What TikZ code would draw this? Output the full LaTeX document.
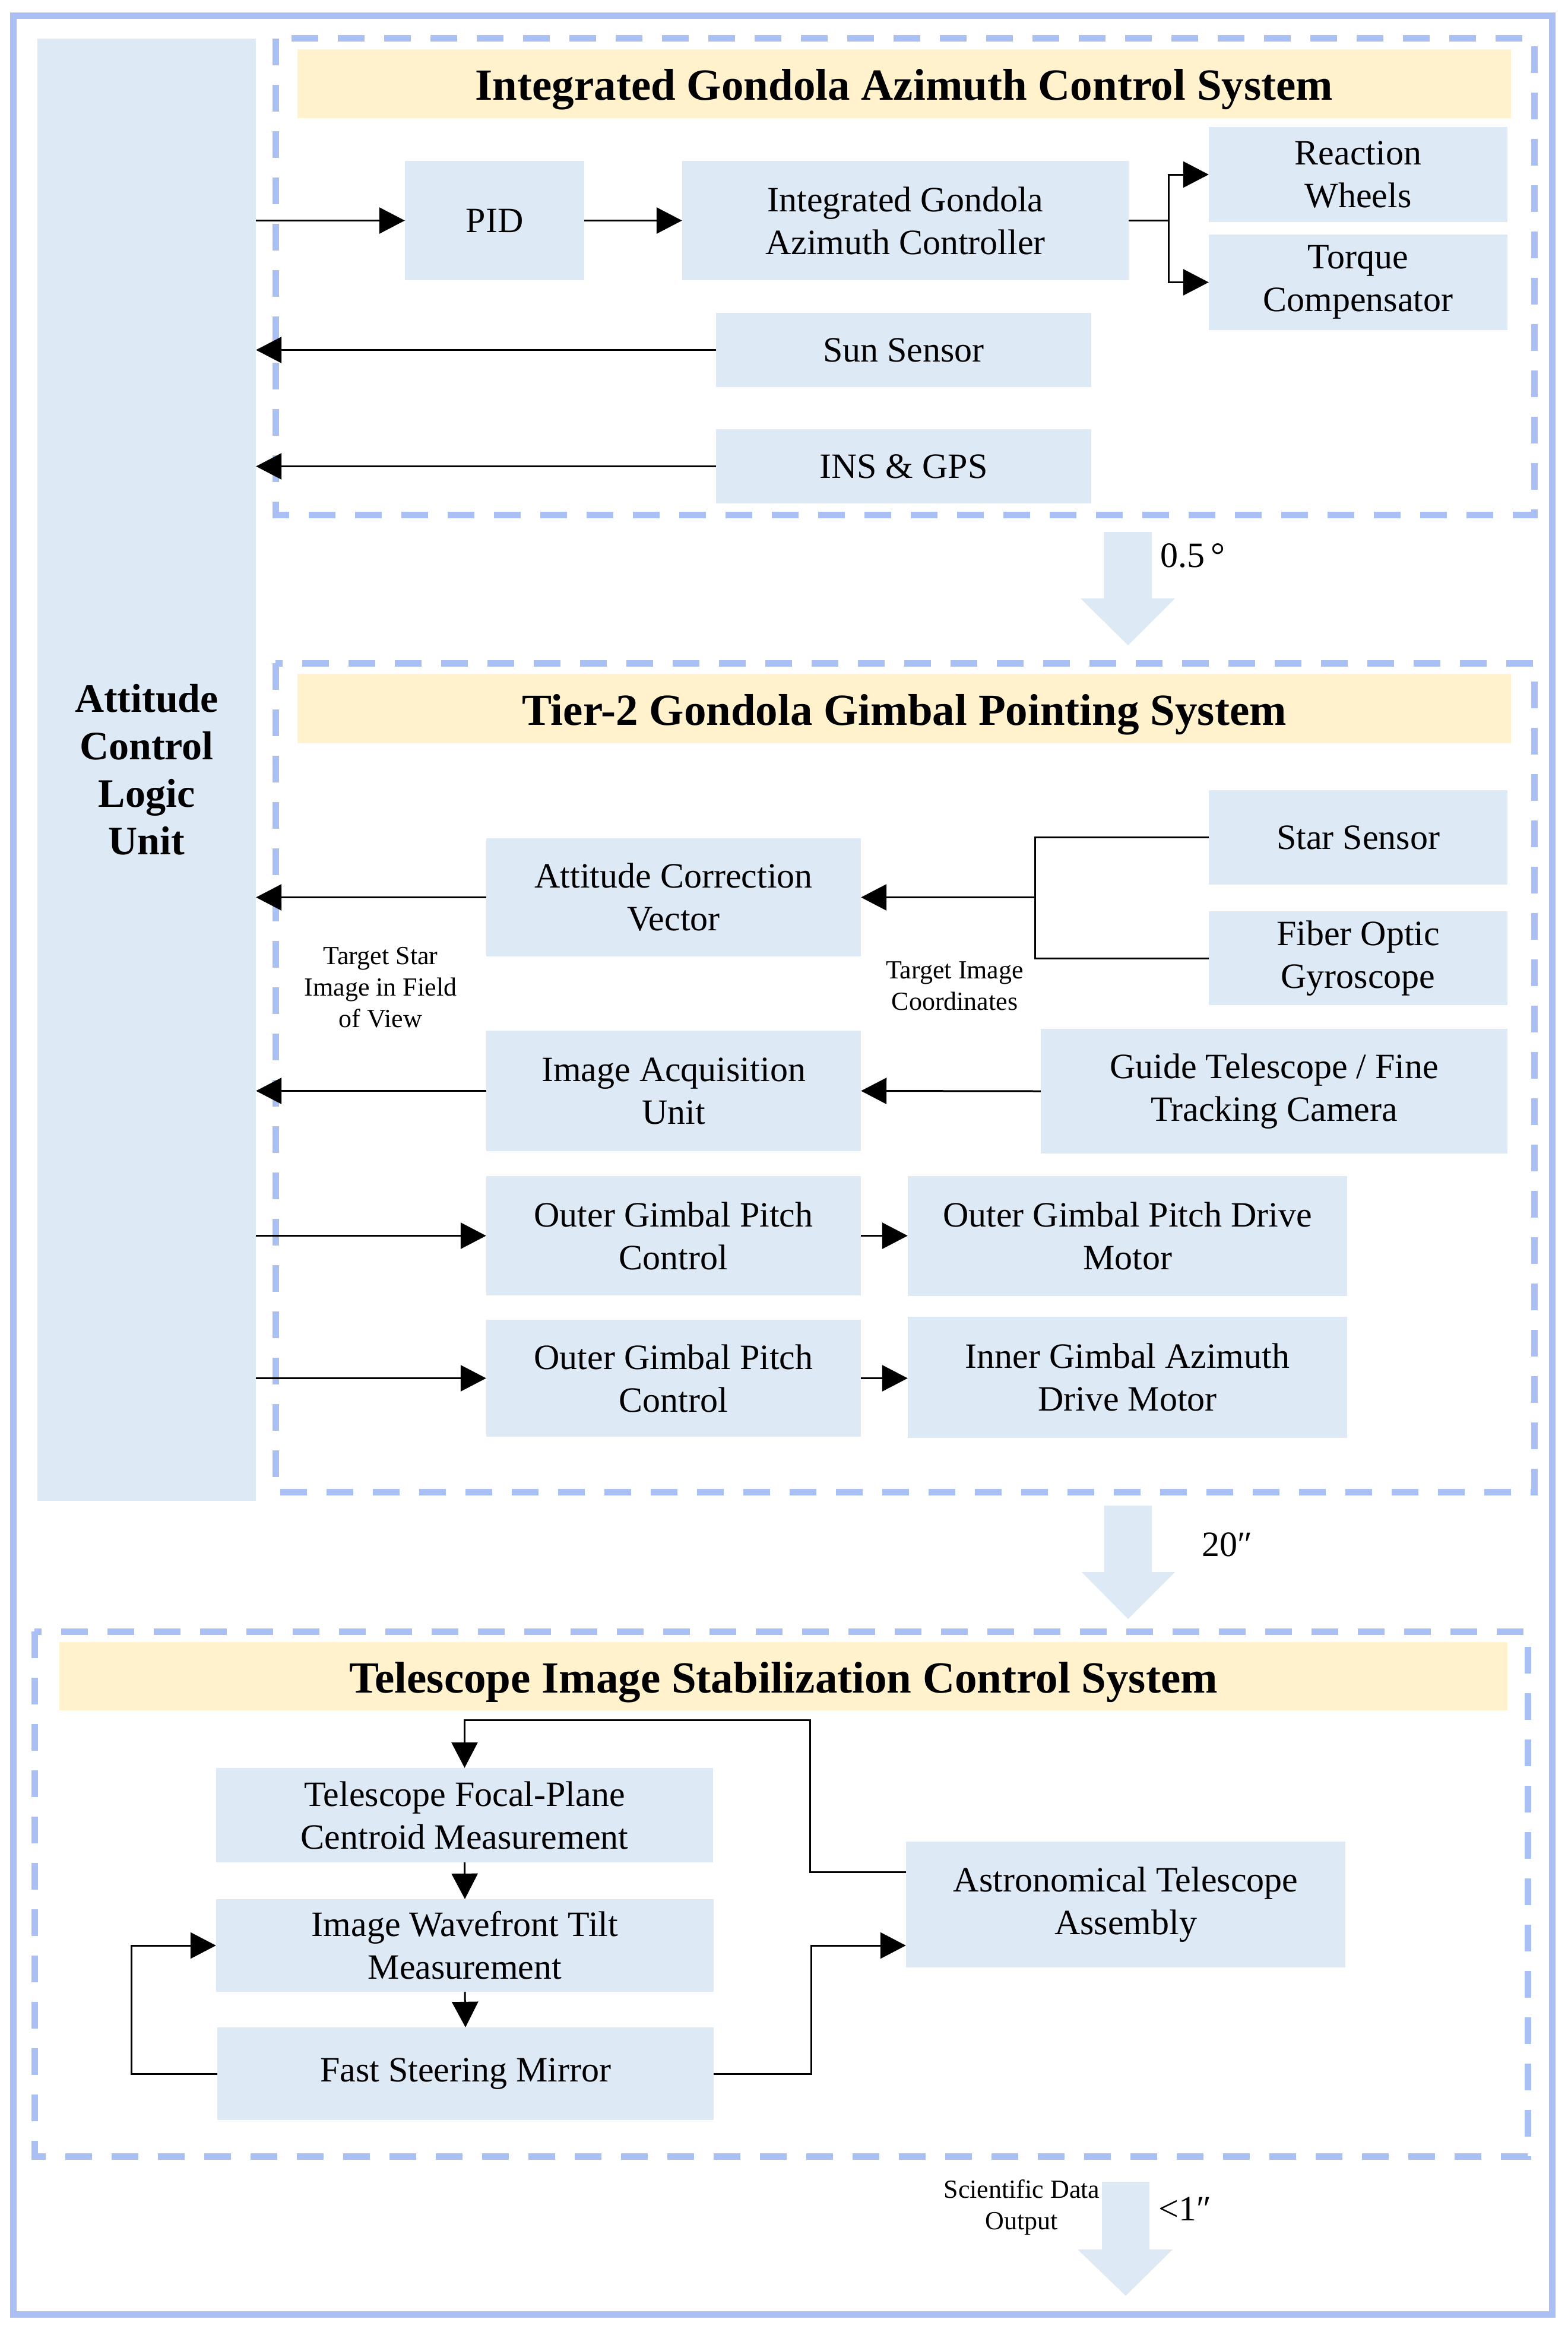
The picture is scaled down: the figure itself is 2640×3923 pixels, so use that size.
\documentclass[tikz,border=0pt]{standalone}
\usepackage{fontspec}
\setmainfont{Liberation Serif}
\usetikzlibrary{arrows.meta}
\definecolor{boxblue}{RGB}{222,233,246}
\definecolor{bandyellow}{RGB}{255,242,204}
\definecolor{frameblue}{RGB}{170,192,245}
\begin{document}
\begin{tikzpicture}[x=1pt,y=-1pt,
  box/.style={fill=boxblue, draw=none, inner sep=0pt, align=center, font=\fontsize{60}{72}\selectfont},
  band/.style={fill=bandyellow, draw=none, inner sep=0pt, text height=56pt, text depth=0pt, font=\bfseries\fontsize{75}{90}\selectfont},
  grpframe/.style={draw=frameblue, line width=11pt, dash pattern=on 45pt off 33pt},
  outerframe/.style={draw=frameblue, line width=11pt},
  conn/.style={draw=black, line width=3pt},
  arr/.style={conn, -{Triangle[length=43pt,width=44pt]}},
  blockarrow/.style={fill=boxblue, draw=none},
  lbl/.style={inner sep=0pt, align=center, font=\fontsize{44}{53}\selectfont},
  val/.style={inner sep=0pt, anchor=base west, font=\fontsize{60}{72}\selectfont}
]
\useasboundingbox (0,0) rectangle (2640,3923);
\fill[white] (0,0) rectangle (2640,3923);

% frames
\draw[outerframe] (22,27) rectangle (2614,3898);
\draw[grpframe] (464,65) rectangle (2584,867);
\draw[grpframe] (464,1117) rectangle (2584,2513);
\draw[grpframe] (58,2748) rectangle (2573,3632);

% left unit
\node[box, minimum width=368pt, minimum height=2463pt, font=\bfseries\fontsize{68}{80}\selectfont] (aclu) at (247,1296.5) {Attitude\\Control\\Logic\\Unit};

% section 1
\node[band, minimum width=2044pt, minimum height=116pt] (band1) at (1523,141) {Integrated Gondola Azimuth Control System};
\node[box, minimum width=302pt, minimum height=201pt] (pid) at (833,371.5) {PID};
\node[box, minimum width=752pt, minimum height=201pt] (igac) at (1525,371.5) {Integrated Gondola\\Azimuth Controller};
\node[box, minimum width=503pt, minimum height=160pt] (rw) at (2287.5,294) {Reaction\\Wheels};
\node[box, minimum width=503pt, minimum height=161pt] (tc) at (2287.5,475.5) {Torque\\Compensator};
\node[box, minimum width=632pt, minimum height=125pt] (sun) at (1522,589.5) {Sun Sensor};
\node[box, minimum width=632pt, minimum height=125pt] (ins) at (1522,785.5) {INS \& GPS};

\draw[arr] (aclu.east |- pid.west) -- (pid.west);
\draw[arr] (pid.east) -- (igac.west);
\coordinate (br1) at (1968,371.5);
\draw[conn] (igac.east) -- (br1);
\draw[arr] (br1) |- (rw.west);
\draw[arr] (br1) |- (tc.west);
\draw[arr] (sun.west) -- (aclu.east |- sun.west);
\draw[arr] (ins.west) -- (aclu.east |- ins.west);

% block arrow 1
\fill[blockarrow] (1859,896) -- (1940,896) -- (1940,1008) -- (1979,1008) -- (1900,1087) -- (1820,1008) -- (1859,1008) -- cycle;
\node[val] (v1) at (1954,955) {0.5\,°};

% section 2
\node[band, minimum width=2044pt, minimum height=117pt] (band2) at (1523,1193.5) {Tier-2 Gondola Gimbal Pointing System};
\node[box, minimum width=631pt, minimum height=199pt] (acv) at (1134.5,1511.5) {Attitude Correction\\Vector};
\node[box, minimum width=631pt, minimum height=203pt] (iau) at (1134.5,1837.5) {Image Acquisition\\Unit};
\node[box, minimum width=631pt, minimum height=201pt] (ogpc1) at (1134.5,2081.5) {Outer Gimbal Pitch\\Control};
\node[box, minimum width=631pt, minimum height=197pt] (ogpc2) at (1134.5,2321.5) {Outer Gimbal Pitch\\Control};
\node[box, minimum width=503pt, minimum height=159pt] (ss) at (2287.5,1410.5) {Star Sensor};
\node[box, minimum width=503pt, minimum height=158pt] (fog) at (2287.5,1614) {Fiber Optic\\Gyroscope};
\node[box, minimum width=786pt, minimum height=210pt] (gt) at (2146,1838) {Guide Telescope / Fine\\Tracking Camera};
\node[box, minimum width=740pt, minimum height=202pt] (ogpdm) at (1899,2082) {Outer Gimbal Pitch Drive\\Motor};
\node[box, minimum width=740pt, minimum height=204pt] (igadm) at (1899,2320) {Inner Gimbal Azimuth\\Drive Motor};

\node[lbl] (l1) at (641,1663) {Target Star\\Image in Field\\of View};
\node[lbl] (l2) at (1608,1661) {Target Image\\Coordinates};

\coordinate (br2) at (1743,1511.5);
\draw[conn] (ss.west) -| (br2);
\draw[conn] (fog.west) -| (br2);
\draw[arr] (br2) -- (acv.east);
\draw[arr] (acv.west) -- (aclu.east |- acv.west);
\draw[arr] (gt.west) -- (iau.east);
\draw[arr] (iau.west) -- (aclu.east |- iau.west);
\draw[arr] (aclu.east |- ogpc1.west) -- (ogpc1.west);
\draw[arr] (aclu.east |- ogpc2.west) -- (ogpc2.west);
\draw[arr] (ogpc1.east) -- (ogpdm.west |- ogpc1.east);
\draw[arr] (ogpc2.east) -- (igadm.west |- ogpc2.east);

% block arrow 2
\fill[blockarrow] (1860,2536) -- (1940,2536) -- (1940,2648) -- (1979,2648) -- (1900,2727) -- (1822,2648) -- (1860,2648) -- cycle;
\node[val] (v2) at (2024,2621) {20″};

% section 3
\node[band, minimum width=2439pt, minimum height=115pt] (band3) at (1319.5,2823.5) {Telescope Image Stabilization Control System};
\node[box, minimum width=837pt, minimum height=159pt] (tfp) at (782.5,3057.5) {Telescope Focal-Plane\\Centroid Measurement};
\node[box, minimum width=838pt, minimum height=156pt] (iwt) at (783,3277) {Image Wavefront Tilt\\Measurement};
\node[box, minimum width=836pt, minimum height=156pt] (fsm) at (784,3493) {Fast Steering Mirror};
\node[box, minimum width=740pt, minimum height=212pt] (ata) at (1896,3208) {Astronomical Telescope\\Assembly};

\coordinate (k1) at (1364,2897);
\coordinate (k2) at (221,3493);
\coordinate (k3) at (1366,3493);
\draw[arr] ([yshift=55pt]ata.west) -| (k1) -| (tfp.north);
\draw[arr] (tfp.south) -- (iwt.north);
\draw[arr] (iwt.south) -- (fsm.north);
\draw[arr] (fsm.west) -- (k2) |- (iwt.west);
\draw[arr] (fsm.east) -- (k3) |- ([yshift=-69pt]ata.west);

% block arrow 3
\fill[blockarrow] (1856,3675) -- (1936,3675) -- (1936,3789) -- (1975,3789) -- (1896,3867) -- (1815,3789) -- (1856,3789) -- cycle;
\node[val] (v3) at (1951,3740) {<1″};
\node[lbl] (l3) at (1721,3718.5) {Scientific Data\\Output};
\end{tikzpicture}
\end{document}
